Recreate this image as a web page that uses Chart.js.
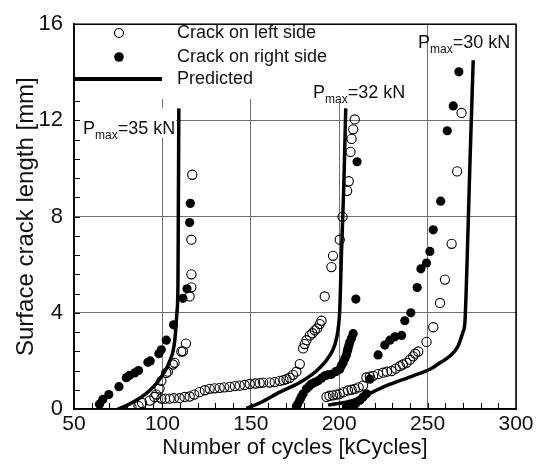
<!DOCTYPE html>
<html>
<head>
<meta charset="utf-8">
<script src="https://cdn.jsdelivr.net/npm/chart.js@4.4.1/dist/chart.umd.min.js"></script>
<style>
  html, body { margin: 0; padding: 0; background: #fff; }
  #wrap { position: relative; width: 544px; height: 465px; }
</style>
</head>
<body>
<div id="wrap"><canvas id="crack"></canvas></div>
<script>
// Surface crack length vs. number of cycles for three load levels:
// measured crack on the left side (open), right side (filled) and the
// predicted growth curves (thick black lines).

const FONT = '"Liberation Sans", Arial, Helvetica, sans-serif';

const X_TICKS = [50, 100, 150, 200, 250, 300];
const Y_TICKS = [0, 4, 8, 12, 16];

// [kCycles, mm] -- crack on left side
const LEFT_35 = [
  [82.5, 0.08], [86.5, 0.12], [88.5, 0.25], [92.8, 0.35], [95.5, 0.5], [96.5, 0.6],
  [97.5, 0.12], [98.4, 0.85], [99.4, 1.17], [102.2, 1.5], [103.1, 1.55], [105.9, 1.85],
  [106.9, 1.92], [110.7, 2.39], [111.6, 2.4], [113.3, 2.72], [115.4, 4.68], [116.4, 5.06],
  [116.4, 5.6], [116.4, 7.04], [116.9, 9.74]
];
const LEFT_32 = [
  [99.4, 0.43], [101.5, 0.43], [104.1, 0.43], [106.5, 0.45], [109.7, 0.45], [112.5, 0.5],
  [115.4, 0.52], [118, 0.6], [121, 0.7], [124, 0.78], [126.7, 0.84], [129.5, 0.86],
  [132.4, 0.88], [135, 0.9], [138.1, 0.92], [141, 0.95], [143.7, 0.97], [146.5, 1.0],
  [149.4, 1.04], [152.5, 1.06], [155, 1.08], [157, 1.1], [160.7, 1.1], [163.5, 1.12],
  [166.4, 1.17], [168.5, 1.2], [170.2, 1.24], [172, 1.3], [173.9, 1.42], [175.8, 1.55],
  [177.7, 1.87], [179.6, 2.52], [180.5, 2.7], [181.5, 2.86], [183.4, 3.06], [184.8, 3.15],
  [186.2, 3.27], [187.5, 3.35], [189, 3.53], [190, 3.67], [191.8, 4.68], [195.6, 5.9],
  [196.5, 6.37], [200.3, 7.04], [201.9, 7.99], [204.5, 9.07], [205.4, 9.47], [206.4, 10.69],
  [207, 11.23], [207.9, 11.63], [208.8, 12.04]
];
const LEFT_30 = [
  [192.8, 0.5], [194.5, 0.55], [196.5, 0.57], [198.5, 0.6], [200.3, 0.63], [202.5, 0.7],
  [205, 0.77], [207, 0.8], [208.8, 0.84], [211, 0.9], [213.5, 0.97], [215.4, 1.31],
  [217.3, 1.35], [219.2, 1.38], [222, 1.45], [224.8, 1.51], [227, 1.55], [229.6, 1.58],
  [232, 1.68], [234.3, 1.78], [236, 1.85], [238.1, 1.92], [240, 2.05], [241.8, 2.19],
  [243, 2.3], [244.7, 2.39], [249.4, 2.79], [253.2, 3.4], [257, 4.41], [259.8, 5.38],
  [263.6, 6.87], [266.7, 9.88], [269.2, 12.31]
];

// [kCycles, mm] -- crack on right side
const RIGHT_35 = [
  [64.4, 0.2], [66.3, 0.4], [69.7, 0.6], [75.4, 0.93], [79.6, 1.3], [81.4, 1.4],
  [84.3, 1.5], [86.5, 1.6], [91.8, 1.94], [93.1, 2.0], [98, 2.3], [99.4, 2.46],
  [102.2, 2.86], [106.3, 3.5], [111.6, 4.6], [113.9, 5.0], [115.4, 7.75], [115.8, 8.55]
];
const RIGHT_32 = [
  [175.8, 0.1], [176.5, 0.2], [177.7, 0.36], [178.5, 0.5], [179.6, 0.63], [181.5, 0.84],
  [183, 0.95], [184.3, 1.04], [186, 1.1], [188.1, 1.17], [190, 1.28], [191.8, 1.38],
  [193.5, 1.42], [195.6, 1.44], [198, 1.55], [200.3, 1.65], [201.2, 1.8], [202.2, 1.92],
  [203.2, 2.1], [204.1, 2.25], [204.6, 2.4], [205, 2.52], [205.5, 2.65], [206, 2.79],
  [207, 2.95], [207.9, 3.13], [209.4, 4.57], [210.1, 10.28]
];
const RIGHT_30 = [
  [204.1, 0.1], [206, 0.12], [207.9, 0.16], [209.5, 0.25], [211.7, 0.36], [213.5, 0.5],
  [215.4, 0.63], [217.3, 1.24], [222, 2.25], [225.8, 2.66], [228.7, 2.86], [231.5, 3.0],
  [235.3, 3.06], [237.1, 3.67], [240.5, 4.0], [244.1, 5.05], [246.2, 5.83], [249.4, 6.07],
  [251.3, 6.55], [253.2, 7.45], [257.4, 8.64], [261.1, 11.57], [264.5, 12.6], [267.7, 14.02]
];

// [kCycles, mm] -- predicted growth
const PRED_35 = [
  [74.8, 0], [80, 0.15], [85.2, 0.36], [90, 0.6], [92.8, 0.77], [97, 1.1], [100.3, 1.44],
  [104.1, 1.98], [106.9, 2.79], [108.2, 4.0], [108.8, 5.2], [109.0, 8.0], [109.3, 12.5]
];
const PRED_32 = [
  [147.5, 0.02], [155, 0.25], [166.4, 0.7], [177.7, 1.1], [187.1, 1.58], [193.7, 2.12],
  [197.5, 2.66], [199.4, 3.33], [200.3, 4.1], [201.3, 6.5], [202.6, 9.3], [203.7, 12.5]
];
const PRED_30 = [
  [193.7, 0.16], [207.9, 0.36], [226.8, 0.97], [241.8, 1.38], [251.3, 1.65], [257, 1.92],
  [262.6, 2.2], [267.1, 2.6], [270, 3.2], [271.1, 3.6], [272.4, 6.3], [274, 10.35], [275.8, 14.5]
];

// load labels: text, anchor [kCycles, mm] (baseline of the "P")
const LOADS = ['35', '32', '30'];
const LOAD_AT = [[55.1, 11.45], [185.2, 12.95], [244.6, 15.0]];

const toXY = arr => arr.map(p => ({ x: p[0], y: p[1] }));

function predicted(arr) {
  return {
    data: toXY(arr), showLine: true, borderColor: '#000', borderWidth: 3.5,
    pointRadius: 0, cubicInterpolationMode: 'monotone', fill: false, order: 2
  };
}

// legend, label boxes, inner minor ticks
const decorPlugin = {
  id: 'decor',
  beforeDatasetsDraw(chart) {
    const { ctx, chartArea: a, scales: { x, y } } = chart;
    ctx.save();
    ctx.strokeStyle = '#000';
    ctx.lineWidth = 1;
    ctx.beginPath();
    for (let v = 60; v < 300; v += 10) {
      const px = Math.round(x.getPixelForValue(v)) + 0.5;
      ctx.moveTo(px, a.bottom); ctx.lineTo(px, a.bottom - 6);
    }
    for (let k = 1; k < 20; k++) {
      const py = Math.round(y.getPixelForValue(k * 0.8)) + 0.5;
      ctx.moveTo(a.left, py); ctx.lineTo(a.left + 6, py);
    }
    ctx.stroke();

    // white panels behind legend and the 35 / 32 kN labels
    ctx.fillStyle = '#fff';
    ctx.fillRect(a.left + 1, a.top + 1, 330, 74);
    ctx.fillRect(80, 108, 96, 30);
    ctx.fillRect(304, 70, 106, 32);

    // legend
    ctx.fillStyle = '#111';
    ctx.font = '18px ' + FONT;
    ctx.textBaseline = 'middle';
    ctx.textAlign = 'left';
    const items = ['Crack on left side', 'Crack on right side', 'Predicted'];
    const rows = [33, 57, 79];
    items.forEach((t, i) => ctx.fillText(t, 177, rows[i]));
    ctx.lineWidth = 1.2;
    ctx.beginPath(); ctx.arc(119, rows[0], 4.5, 0, Math.PI * 2); ctx.stroke();
    ctx.beginPath(); ctx.arc(119, rows[1], 4.8, 0, Math.PI * 2); ctx.fillStyle = '#000'; ctx.fill();
    ctx.lineWidth = 4;
    ctx.beginPath(); ctx.moveTo(a.left, rows[2]); ctx.lineTo(162, rows[2]); ctx.stroke();

    // P_max labels
    ctx.textBaseline = 'alphabetic';
    ctx.fillStyle = '#111';
    LOADS.forEach((load, i) => {
      let px = x.getPixelForValue(LOAD_AT[i][0]);
      const py = y.getPixelForValue(LOAD_AT[i][1]);
      ctx.font = '18px ' + FONT;
      ctx.fillText('P', px, py);
      px += ctx.measureText('P').width;
      ctx.font = '12px ' + FONT;
      ctx.fillText('max', px, py + 5);
      px += ctx.measureText('max').width;
      ctx.font = '18px ' + FONT;
      ctx.fillText('=' + load + ' kN', px, py);
    });
    ctx.restore();
  },
  afterDraw(chart) {
    const { ctx, chartArea: a } = chart;
    ctx.save();
    ctx.strokeStyle = '#000';
    ctx.lineWidth = 1.5;
    ctx.strokeRect(a.left, a.top, a.right - a.left, a.bottom - a.top);
    ctx.restore();
  }
};

const openPt = {
  pointStyle: 'circle', pointRadius: 4.6, pointBorderWidth: 1.1,
  pointBorderColor: '#000', pointBackgroundColor: 'rgba(0,0,0,0)', showLine: false, order: 1
};
const filledPt = {
  pointStyle: 'circle', pointRadius: 4.6, pointBorderWidth: 0,
  pointBorderColor: '#000', pointBackgroundColor: '#000', showLine: false, order: 1
};

new Chart(document.getElementById('crack'), {
  type: 'scatter',
  data: {
    datasets: [
      predicted(PRED_35), predicted(PRED_32), predicted(PRED_30),
      Object.assign({ label: 'Crack on left side', data: toXY(LEFT_35.concat(LEFT_32, LEFT_30)) }, openPt),
      Object.assign({ label: 'Crack on right side', data: toXY(RIGHT_35.concat(RIGHT_32, RIGHT_30)) }, filledPt)
    ]
  },
  options: {
    responsive: true,
    maintainAspectRatio: false,
    animation: false,
    layout: { padding: { top: 13, right: 28, bottom: 0, left: 0 } },
    plugins: { legend: { display: false }, tooltip: { enabled: false } },
    scales: {
      x: {
        type: 'linear', min: 50, max: 300,
        afterBuildTicks: s => { s.ticks = X_TICKS.map(v => ({ value: v })); },
        afterFit: s => { s.height = 56; },
        ticks: { color: '#111', font: { family: FONT, size: 21 }, padding: 3, maxRotation: 0 },
        grid: { color: '#707070', lineWidth: 1, drawTicks: false },
        border: { color: '#000', width: 1.5 },
        title: { display: true, text: 'Number of cycles [kCycles]', color: '#111',
                 font: { family: FONT, size: 22 }, padding: { top: 0, bottom: 4 } }
      },
      y: {
        type: 'linear', min: 0, max: 16,
        afterBuildTicks: s => { s.ticks = Y_TICKS.map(v => ({ value: v })); },
        afterFit: s => { s.width = 74; },
        ticks: { color: '#111', font: { family: FONT, size: 22 }, padding: 11 },
        grid: { color: '#707070', lineWidth: 1, drawTicks: false },
        border: { color: '#000', width: 1.5 },
        title: { display: true, text: 'Surface crack length [mm]', color: '#111',
                 font: { family: FONT, size: 24 }, padding: { top: 12, bottom: 0 } }
      }
    }
  },
  plugins: [decorPlugin]
});
</script>
</body>
</html>
